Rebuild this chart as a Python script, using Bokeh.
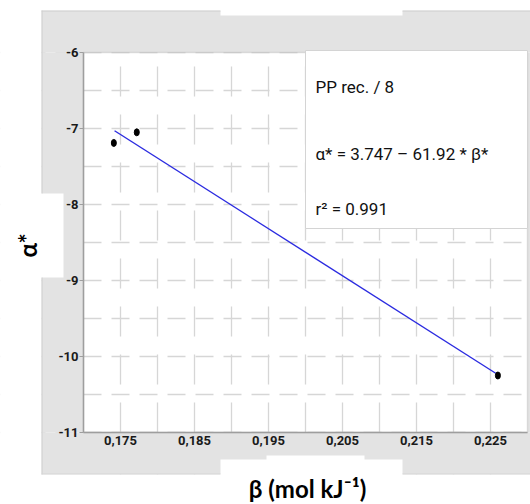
from bokeh.plotting import figure
from bokeh.models import BoxAnnotation, Label, FixedTicker, Range1d
from bokeh.embed import file_html
from bokeh.resources import INLINE

# ---- data ----
beta = [0.1741, 0.1772, 0.2260]
alpha = [-7.19, -7.05, -10.25]
fit_beta = [0.1742, 0.2257]
fit_alpha = [-7.03, -10.22]

x_major = [0.175, 0.185, 0.195, 0.205, 0.215, 0.225]
x_labels = ["0,175", "0,185", "0,195", "0,205", "0,215", "0,225"]
x_minor = [0.180, 0.190, 0.200, 0.210, 0.220]
y_major = [-11, -10, -9, -8, -7, -6]
y_labels = ["-11", "-10", "-9", "-8", "-7", "-6"]
y_minor = [-10.5, -9.5, -8.5, -7.5, -6.5]

annot_title = "PP rec. / 8"
annot_eq = "α* = 3.747 – 61.92 * β*"
annot_r2 = "r² = 0.991"
x_title = "β (mol kJ⁻¹)"
y_title = "α*"

# ---- layout (page pixels) ----
W, H = 530, 504
XA, XB = 0.170, 0.230      # plot-area x extent
YA, YB = -11.0, -6.0       # plot-area y extent
PL, PR, PT, PB = 83, 527, 52, 432   # plot-area edges on the page


def dx(px):
    return XA + (px - PL) * (XB - XA) / (PR - PL)


def dy(py):
    return YB - (py - PT) * (YB - YA) / (PB - PT)


p = figure(width=W, height=H, title=None,
           x_range=Range1d(dx(0), dx(W)), y_range=Range1d(dy(H), dy(0)),
           output_backend="svg", toolbar_location=None,
           min_border=0, min_border_left=0, min_border_right=0,
           min_border_top=0, min_border_bottom=0)
p.border_fill_color = "white"
p.background_fill_color = "white"
p.outline_line_color = None


def box(x0, y0, x1, y1, color, level="glyph", line=None, lw=1.0):
    b = BoxAnnotation(left=dx(x0), right=dx(x1), top=dy(y0), bottom=dy(y1),
                      fill_color=color, fill_alpha=1.0 if color else 0.0,
                      line_color=line, line_alpha=1.0 if line else 0.0, line_width=lw,
                      level=level)
    p.add_layout(b)


GRAY = "#e3e3e3"
EDGE = "#cdcdcd"
# gray surround (also hides grid overflow outside the plot area)
box(41, 10, 560, PT, GRAY)
box(41, PB, 560, 474, GRAY)
box(41, PT, PL, PB, GRAY)
box(PR, PT, 560, PB, GRAY)
# white outside the gray frame
box(-20, -20, 41, 540, "white")
box(-20, -20, 560, 10, "white")
box(-20, 474, 560, 540, "white")
# white cut-outs
box(40, 193, 63, 277, "white")
box(220, -20, 402, 15, "white")
box(220, 459, 402, 540, "white")
box(266, 455, 364, 460, "white")
# darker edges of the gray frame
box(41, 10, 220, 11, EDGE)
box(402, 10, 560, 11, EDGE)
box(41, 10, 42, 193, EDGE)
box(41, 277, 42, 474, EDGE)
box(41, 473, 220, 474, "#d6d6d6")
box(402, 473, 560, 474, "#d6d6d6")
# plot-area border
p.add_layout(BoxAnnotation(left=XA, right=XB, top=YB, bottom=YA, fill_alpha=0.0,
                           line_color="#9e9e9e", line_width=1.5, level="glyph"))

# axes, fixed on the plot-area edges
p.xaxis.fixed_location = YA
p.yaxis.fixed_location = XA
p.xaxis.bounds = (XA, XB)
p.yaxis.bounds = (YA, YB)
p.xaxis.ticker = FixedTicker(ticks=x_major, minor_ticks=x_minor)
p.yaxis.ticker = FixedTicker(ticks=y_major, minor_ticks=y_minor)
p.xaxis.major_label_overrides = dict(zip(x_major, x_labels))
p.yaxis.major_label_overrides = dict(zip(y_major, y_labels))
for ax in (p.xaxis[0], p.yaxis[0]):
    ax.axis_line_color = "#9e9e9e"
    ax.axis_line_width = 1.5
    ax.minor_tick_out = 0
    ax.minor_tick_in = 0
    ax.major_tick_in = 0
    ax.major_tick_line_color = "#9e9e9e"
    ax.major_label_text_font = "Roboto"
    ax.major_label_text_font_size = "13px"
    ax.major_label_text_font_style = "bold"
    ax.major_label_text_color = "#1a1a1a"
p.xaxis.major_tick_out = 0
p.xaxis.major_label_standoff = 3
p.yaxis.major_tick_out = 4
p.yaxis.major_label_standoff = 1

# grid (dash phase aligned to the plot-area edges)
GRID = "#d6d6d6"
p.xgrid.grid_line_color = GRID
p.xgrid.minor_grid_line_color = GRID
p.xgrid.grid_line_dash = "30 18"
p.xgrid.minor_grid_line_dash = "30 18"
p.xgrid.grid_line_dash_offset = 24
p.xgrid.minor_grid_line_dash_offset = 24
p.ygrid.grid_line_color = GRID
p.ygrid.minor_grid_line_color = GRID
p.ygrid.grid_line_dash = "18 10"
p.ygrid.minor_grid_line_dash = "18 10"
p.ygrid.grid_line_dash_offset = 1
p.ygrid.minor_grid_line_dash_offset = 1
for g in (p.xgrid[0], p.ygrid[0]):
    g.grid_line_width = 1.3
    g.minor_grid_line_width = 1.3

# data
p.line(fit_beta, fit_alpha, line_color="#2b2be0", line_width=1.4)
p.ellipse(beta, alpha, width=5, height=7, width_units="screen", height_units="screen",
          fill_color="black", line_color="black")

# annotation box with texts
box(305, 50, PR, 228, "white", level="annotation", line="#d4d4d4")
for txt, py in ((annot_title, 86.5), (annot_eq, 153), (annot_r2, 208)):
    p.add_layout(Label(x=dx(315), y=dy(py), text=txt, text_font="Roboto",
                       text_font_size="17px", text_color="#111111",
                       text_baseline="alphabetic", text_align="left"))

# axis titles
p.add_layout(Label(x=dx(307), y=dy(488), text=x_title,
                   text_font="Lato", text_font_style="bold", text_font_size="24px",
                   text_color="black", text_align="center", text_baseline="middle"))
p.add_layout(Label(x=dx(27), y=dy(245), text=y_title, angle=90, angle_units="deg",
                   text_font="Lato", text_font_style="bold", text_font_size="24px",
                   text_color="black", text_align="center", text_baseline="middle"))

open("out.html", "w").write(file_html(p, INLINE))
